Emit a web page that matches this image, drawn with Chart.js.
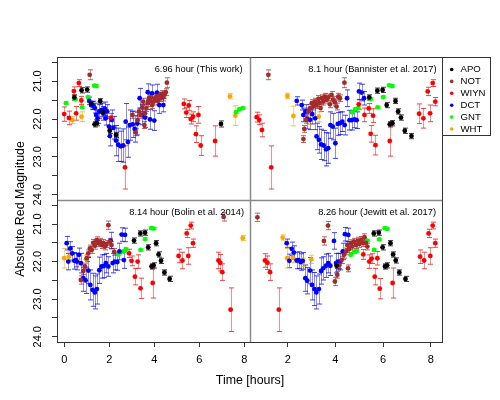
<!DOCTYPE html>
<html>
<head>
<meta charset="utf-8">
<script src="https://cdn.jsdelivr.net/npm/chart.js@4.4.0/dist/chart.umd.min.js"></script>
<style>
  body { margin: 0; background: #fff; }
  #wrap { position: relative; width: 500px; height: 400px; }
  canvas { position: absolute; left: 0; top: 0; }
</style>
</head>
<body>
<div id="wrap">
  <canvas id="c1" width="500" height="400"></canvas>
  <canvas id="c2" width="500" height="400"></canvas>
  <canvas id="c3" width="500" height="400"></canvas>
  <canvas id="c4" width="500" height="400"></canvas>
</div>
<script>
// instruments, legend order
const instruments = ['APO', 'NOT', 'WIYN', 'DCT', 'GNT', 'WHT']
const colors = ['#000000', '#a52a2a', '#ff0000', '#0000ff', '#00ff00', '#ffa500']

const panelLabels = ['6.96 hour (This work)', '8.1 hour (Bannister et al. 2017)',
  '8.14 hour (Bolin et al. 2014)', '8.26 hour (Jewitt et al. 2017)']
const leftTicks = [0, 2, 4, 6, 8]
const rightTicks = [2, 4, 6, 8]
const magTicks = [20.5, 21, 21.5, 22, 22.5, 23, 23.5, 24]

// [time (h), magnitude, error] -- panel 1: this work
const apo1 = [[0.45,21.43,0.07],[0.77,21.24,0.07],[1.02,21.22,0.07],[1.19,21.60,0.07],[1.35,22.14,0.07],[1.45,22.11,0.07],[1.60,21.53,0.07],[1.72,21.82,0.07],[2.02,22.31,0.07],[2.30,22.42,0.07],[6.96,22.13,0.08]]
const not1 = [[1.13,20.83,0.13],[3.03,21.89,0.09],[3.17,22.35,0.09],[3.26,22.03,0.09],[3.32,21.80,0.09],[3.39,21.89,0.09],[3.47,21.70,0.09],[3.51,21.54,0.09],[3.56,22.16,0.09],[3.59,21.85,0.09],[3.65,21.71,0.09],[3.71,21.58,0.09],[3.76,21.45,0.09],[3.81,21.52,0.09],[3.85,21.43,0.09],[3.91,21.63,0.09],[3.97,21.54,0.09],[4.03,21.45,0.09],[4.09,21.41,0.09],[4.15,21.52,0.09],[4.21,21.38,0.09],[4.27,21.45,0.09],[4.33,21.34,0.09],[4.39,21.43,0.09],[4.45,21.36,0.09],[4.51,21.29,0.09],[4.56,21.04,0.13]]
const wiyn1 = [[0.00,21.87,0.19],[0.21,21.97,0.18],[0.43,21.26,0.11],[0.53,21.85,0.18],[0.65,21.05,0.09],[0.76,21.51,0.11],[2.08,21.96,0.11],[2.70,23.28,0.57],[5.31,21.60,0.13],[5.42,21.83,0.13],[5.53,21.64,0.13],[5.62,22.00,0.13],[5.72,21.94,0.13],[5.85,22.40,0.22],[5.96,21.89,0.22],[6.06,22.70,0.26],[6.70,22.58,0.40]]
const dct1 = [[1.11,21.52,0.10],[1.22,21.64,0.10],[1.29,21.64,0.11],[1.36,21.71,0.13],[1.42,21.89,0.13],[1.48,21.98,0.13],[1.56,21.80,0.18],[1.66,21.76,0.18],[1.73,21.85,0.18],[1.81,21.73,0.18],[1.84,21.98,0.18],[1.91,21.80,0.18],[1.99,22.20,0.26],[2.03,22.45,0.26],[2.11,22.02,0.26],[2.19,22.23,0.30],[2.30,22.57,0.40],[2.40,22.68,0.44],[2.51,22.72,0.40],[2.62,22.70,0.44],[2.73,22.07,0.48],[2.83,22.61,0.40],[2.91,22.16,0.40],[3.04,22.14,0.35],[3.13,22.26,0.35],[3.25,22.12,0.30],[3.35,21.45,0.26],[3.47,21.89,0.26],[3.59,21.96,0.26],[3.71,21.29,0.22],[3.81,22.01,0.26],[3.90,21.32,0.22],[4.00,22.04,0.26],[4.12,21.30,0.22],[4.22,21.63,0.22],[4.40,21.63,0.18]]
const gnt1 = [[0.08,21.58,0.03],[0.49,21.48,0.03],[0.79,21.69,0.03],[1.05,21.42,0.03],[1.34,21.12,0.03],[1.42,21.13,0.03],[7.63,21.82,0.03],[7.78,21.74,0.03],[7.93,21.71,0.03]]
const wht1 = [[0.36,22.03,0.09],[0.77,21.94,0.13],[7.36,21.40,0.07],[7.60,21.91,0.26]]

// panel 2: Bannister et al. 2017
const apo2 = [[5.42,21.43,0.07],[5.76,21.25,0.07],[5.98,21.23,0.07],[6.15,21.63,0.07],[6.28,22.14,0.07],[6.39,22.11,0.07],[6.52,21.52,0.07],[6.63,21.80,0.07],[6.75,21.96,0.07],[6.91,22.31,0.07],[7.19,22.45,0.07]]
const not2 = [[1.19,20.83,0.13],[2.66,22.53,0.09],[2.70,22.26,0.09],[2.77,22.02,0.09],[2.87,21.80,0.09],[2.94,21.71,0.09],[3.01,21.58,0.09],[3.08,21.67,0.09],[3.15,21.54,0.09],[3.21,21.63,0.09],[3.29,21.47,0.09],[3.33,21.58,0.09],[3.38,21.71,0.09],[3.43,21.45,0.09],[3.49,21.54,0.09],[3.56,21.41,0.09],[3.63,21.49,0.09],[3.70,21.43,0.09],[3.77,21.61,0.09],[3.84,21.36,0.09],[3.91,21.49,0.09],[3.98,21.56,0.09],[4.05,21.67,0.09],[4.12,21.41,0.09],[4.19,21.45,0.09],[4.38,21.04,0.13]]
const wiyn2 = [[0.70,21.95,0.13],[0.81,22.02,0.13],[0.92,22.29,0.18],[1.31,23.28,0.57],[4.98,21.61,0.13],[5.22,21.89,0.18],[5.40,21.72,0.13],[5.48,22.39,0.22],[5.58,21.91,0.18],[5.68,22.69,0.26],[6.28,22.58,0.40],[7.51,21.86,0.26],[7.69,21.98,0.26],[7.87,21.27,0.11],[7.97,21.85,0.22],[8.08,21.05,0.09],[8.19,21.54,0.11]]
const dct2 = [[2.38,21.52,0.11],[2.59,21.63,0.13],[2.66,21.89,0.18],[2.75,21.80,0.18],[2.82,22.00,0.26],[2.94,22.02,0.26],[3.03,21.87,0.26],[3.15,21.98,0.30],[3.21,22.46,0.35],[3.31,22.55,0.35],[3.40,22.67,0.40],[3.51,22.70,0.40],[3.61,22.80,0.44],[3.70,22.77,0.40],[3.79,22.16,0.35],[3.89,22.20,0.35],[4.00,22.64,0.40],[4.10,22.13,0.30],[4.19,22.11,0.30],[4.29,22.07,0.26],[4.39,22.16,0.26],[4.49,21.45,0.22],[4.59,22.03,0.26],[4.68,22.03,0.26],[4.80,22.01,0.22],[4.89,22.03,0.22],[4.99,21.27,0.22],[5.10,21.30,0.22],[5.20,21.45,0.18]]
const gnt2 = [[4.71,21.82,0.03],[4.84,21.74,0.03],[4.96,21.71,0.03],[5.48,21.47,0.03],[5.77,21.69,0.03],[6.01,21.42,0.03],[6.26,21.11,0.03],[6.38,21.13,0.03]]
const wht2 = [[1.99,21.39,0.07],[2.24,21.92,0.26],[2.91,22.03,0.11],[3.30,21.94,0.13]]

// panel 3: Bolin et al. 2014
const apo3 = [[3.10,21.44,0.07],[3.38,21.25,0.07],[3.59,21.23,0.07],[3.73,21.62,0.07],[3.88,22.13,0.07],[3.97,22.10,0.07],[4.08,21.51,0.07],[4.19,21.81,0.07],[4.30,21.98,0.07],[4.45,22.29,0.07],[4.68,22.46,0.07]]
const not3 = [[0.74,22.49,0.11],[0.85,22.25,0.09],[0.92,22.13,0.09],[1.00,21.91,0.09],[1.07,21.78,0.09],[1.14,21.65,0.09],[1.22,21.69,0.09],[1.29,21.50,0.09],[1.36,21.58,0.09],[1.44,21.43,0.09],[1.51,21.51,0.09],[1.59,21.47,0.09],[1.66,21.56,0.09],[1.73,21.50,0.09],[1.81,21.60,0.09],[1.88,21.53,0.09],[1.96,21.03,0.11],[2.03,21.47,0.09],[2.10,21.56,0.09],[2.22,21.74,0.09],[7.08,20.81,0.11]]
const wiyn3 = [[2.88,21.78,0.11],[2.99,21.98,0.13],[3.14,22.40,0.22],[3.26,22.00,0.18],[3.39,22.71,0.27],[3.93,22.57,0.40],[5.08,21.85,0.18],[5.25,21.97,0.22],[5.44,21.25,0.11],[5.51,21.85,0.22],[5.62,21.04,0.09],[5.72,21.51,0.11],[6.85,21.97,0.22],[6.93,22.03,0.22],[7.02,22.28,0.22],[7.39,23.28,0.58]]
const dct3 = [[0.11,21.51,0.18],[0.18,22.00,0.22],[0.27,21.65,0.18],[0.36,21.78,0.18],[0.45,21.98,0.22],[0.51,21.96,0.18],[0.56,22.00,0.22],[0.65,21.82,0.18],[0.74,22.04,0.26],[0.85,22.44,0.35],[0.95,22.50,0.35],[1.07,22.24,0.35],[1.16,22.62,0.40],[1.26,22.75,0.44],[1.36,22.82,0.44],[1.45,22.73,0.40],[1.56,22.23,0.35],[1.66,22.13,0.31],[1.76,22.12,0.31],[1.85,22.04,0.26],[1.96,22.13,0.26],[2.06,21.44,0.22],[2.15,22.04,0.26],[2.25,22.00,0.22],[2.36,22.01,0.22],[2.45,21.73,0.22],[2.55,21.28,0.18],[2.65,21.96,0.22],[2.70,21.29,0.18]]
const gnt3 = [[2.40,21.81,0.03],[2.52,21.75,0.03],[2.62,21.73,0.03],[2.74,21.67,0.03],[3.39,21.69,0.03],[3.59,21.40,0.03],[3.87,21.11,0.03],[3.97,21.12,0.03]]
const wht3 = [[0.00,21.91,0.26],[0.21,21.87,0.13],[0.62,22.02,0.09],[0.98,21.94,0.11],[7.93,21.37,0.07]]

// panel 4: Jewitt et al. 2017
const apo4 = [[4.05,22.11,0.07],[5.61,21.25,0.07],[5.82,21.23,0.07],[5.98,21.62,0.07],[6.08,22.13,0.07],[6.17,22.10,0.07],[6.31,21.51,0.07],[6.42,21.81,0.07],[6.53,21.97,0.07],[6.68,22.29,0.07],[6.94,22.46,0.07]]
const not4 = [[0.73,20.82,0.11],[3.52,21.45,0.11],[3.69,21.04,0.11],[3.98,22.53,0.11],[4.08,22.35,0.09],[4.17,22.09,0.09],[4.26,21.96,0.09],[4.36,21.82,0.09],[4.45,21.73,0.09],[4.50,21.56,0.09],[4.53,22.18,0.09],[4.57,21.67,0.09],[4.64,21.51,0.09],[4.71,21.60,0.09],[4.78,21.47,0.09],[4.87,21.56,0.09],[4.94,21.44,0.09],[5.01,21.53,0.09],[5.08,21.42,0.09],[5.15,21.51,0.09],[5.22,21.35,0.09],[5.28,21.50,0.09],[5.34,21.60,0.09]]
const wiyn4 = [[1.05,21.97,0.18],[1.15,22.03,0.18],[1.26,22.28,0.22],[1.63,23.28,0.58],[5.17,21.81,0.13],[5.42,22.00,0.18],[5.52,21.92,0.13],[5.65,22.40,0.22],[5.76,21.91,0.18],[5.86,22.72,0.27],[6.40,22.57,0.40],[7.55,21.87,0.18],[7.72,21.97,0.22],[7.91,21.25,0.11],[7.98,21.85,0.22],[8.08,21.04,0.09],[8.19,21.51,0.11]]
const dct4 = [[1.96,21.51,0.11],[2.07,21.98,0.18],[2.17,21.66,0.18],[2.26,21.76,0.18],[2.38,21.97,0.22],[2.46,21.96,0.22],[2.54,22.01,0.22],[2.63,21.98,0.22],[2.74,22.44,0.35],[2.82,22.51,0.35],[2.94,22.24,0.35],[3.02,22.62,0.40],[3.12,22.73,0.44],[3.20,22.82,0.44],[3.31,22.73,0.40],[3.40,22.25,0.35],[3.49,22.18,0.31],[3.61,22.11,0.31],[3.70,22.04,0.26],[3.79,22.11,0.26],[3.94,21.45,0.22],[4.03,22.04,0.26],[4.10,22.00,0.22],[4.19,22.00,0.22],[4.31,21.73,0.22],[4.40,21.27,0.18],[4.54,21.29,0.18]]
const gnt4 = [[4.64,21.82,0.03],[4.78,21.75,0.03],[4.89,21.72,0.03],[5.34,21.44,0.03],[5.62,21.69,0.03],[5.84,21.41,0.03],[6.07,21.11,0.03],[6.17,21.13,0.03]]
const wht4 = [[1.79,21.36,0.07],[1.98,21.91,0.26],[2.22,21.89,0.13],[2.63,22.02,0.11],[2.99,21.94,0.11]]

const font = '"Liberation Sans", Arial, Helvetica, sans-serif'
Chart.defaults.font.family = font

// error bars drawn under the points
const errorBars = {
  id: 'errorBars',
  beforeDatasetsDraw(chart) {
    const { ctx, chartArea: a, scales: { x, y } } = chart
    ctx.save()
    ctx.beginPath()
    ctx.rect(a.left, a.top, a.width, a.height)
    ctx.clip()
    ctx.lineWidth = 1
    chart.data.datasets.forEach(ds => {
      ctx.strokeStyle = ds.borderColor
      ds.data.forEach(p => {
        const px = Math.round(x.getPixelForValue(p.x)) + 0.5
        const top = y.getPixelForValue(p.y - p.e)
        const bot = y.getPixelForValue(p.y + p.e)
        ctx.globalAlpha = 0.45
        ctx.beginPath()
        ctx.moveTo(px, top)
        ctx.lineTo(px, bot)
        ctx.stroke()
        ctx.globalAlpha = 0.75
        ctx.beginPath()
        ctx.moveTo(px - 2.5, top); ctx.lineTo(px + 2.5, top)
        ctx.moveTo(px - 2.5, bot); ctx.lineTo(px + 2.5, bot)
        ctx.stroke()
      })
    })
    ctx.restore()
  }
}

// box, period label and tick labels of one panel
const panelDecor = {
  id: 'panelDecor',
  afterDraw(chart, args, opts) {
    const { ctx, chartArea: a, scales: { x, y } } = chart
    ctx.save()
    ctx.strokeStyle = '#333'
    ctx.lineWidth = 1
    ctx.strokeRect(a.left + 0.5, a.top + 0.5, a.width, a.height)
    ctx.fillStyle = '#000'
    ctx.font = '9.3px ' + font
    ctx.textAlign = 'right'
    ctx.textBaseline = 'middle'
    ctx.fillText(opts.text, a.right - opts.dx, a.top + 12.8)
    ctx.font = '11px ' + font
    ctx.textAlign = 'center'
    if (opts.yLabels) {
      y.ticks.forEach(t => {
        if (!Number.isInteger(t.value)) return
        ctx.save()
        ctx.translate(a.left - 19, y.getPixelForValue(t.value))
        ctx.rotate(-Math.PI / 2)
        ctx.fillText(t.value.toFixed(1), 0, 0)
        ctx.restore()
      })
    }
    if (opts.xLabels) {
      x.ticks.forEach(t => {
        ctx.fillText(String(t.value), x.getPixelForValue(t.value), a.bottom + 18)
      })
    }
    ctx.restore()
  }
}

// shared axis titles, panel separators and the legend box
const figureDecor = {
  id: 'figureDecor',
  afterDraw(chart) {
    const { ctx, chartArea: a } = chart
    ctx.save()
    ctx.strokeStyle = '#8a8a8a'
    ctx.lineWidth = 1.5
    ctx.beginPath()
    ctx.moveTo(a.left + 0.5, 57.5); ctx.lineTo(a.left + 0.5, a.bottom)
    ctx.moveTo(58, a.top + 0.5); ctx.lineTo(a.right, a.top + 0.5)
    ctx.stroke()

    ctx.fillStyle = '#000'
    ctx.font = '12.4px ' + font
    ctx.textAlign = 'center'
    ctx.textBaseline = 'middle'
    ctx.fillText('Time [hours]', 250, 381)
    ctx.translate(21, 209)
    ctx.rotate(-Math.PI / 2)
    ctx.fillText('Absolute Red Magnitude', 0, 0)
    ctx.restore()

    ctx.save()
    ctx.strokeStyle = '#333'
    ctx.lineWidth = 1
    ctx.strokeRect(442.5, 57.5, 48, 78)
    ctx.font = '9.6px ' + font
    ctx.textAlign = 'left'
    ctx.textBaseline = 'middle'
    instruments.forEach((name, i) => {
      const yy = 69.5 + i * 11.9
      ctx.fillStyle = colors[i]
      ctx.beginPath()
      ctx.arc(451.7, yy, 1.8, 0, Math.PI * 2)
      ctx.fill()
      ctx.fillStyle = '#000'
      ctx.fillText(name, 460.5, yy)
    })
    ctx.restore()
  }
}

const makePanel = (id, sets, p) => {
  const datasets = instruments.map((name, i) => ({
    label: name,
    data: sets[i].map(r => ({ x: r[0], y: r[1], e: r[2] })),
    backgroundColor: colors[i],
    borderColor: colors[i],
    pointRadius: 2.4,
    pointHoverRadius: 2.4,
    pointBorderWidth: 0
  }))
  const tickGrid = { drawOnChartArea: false, drawTicks: true, tickLength: 5, color: '#333' }
  return new Chart(document.getElementById(id), {
    type: 'scatter',
    data: { datasets },
    plugins: [errorBars, panelDecor].concat(p.extra || []),
    options: {
      responsive: false,
      animation: false,
      events: [],
      layout: { padding: p.pad },
      plugins: {
        legend: { display: false },
        tooltip: { enabled: false },
        panelDecor: { text: p.label, dx: p.dx, yLabels: p.showY, xLabels: p.showX }
      },
      scales: {
        x: {
          type: 'linear',
          min: p.xmin,
          max: p.xmax,
          display: p.showX,
          afterBuildTicks: s => { s.ticks = p.xTicks.map(v => ({ value: v })) },
          afterFit: s => { s.height = 0; s.paddingLeft = 0; s.paddingRight = 0 },
          grid: tickGrid,
          border: { display: false },
          ticks: { display: false }
        },
        y: {
          type: 'linear',
          reverse: true,
          min: 20.36,
          max: 24.14,
          display: p.showY,
          afterBuildTicks: s => { s.ticks = magTicks.map(v => ({ value: v })) },
          afterFit: s => { s.width = 0 },
          grid: tickGrid,
          border: { display: false },
          ticks: { display: false }
        }
      }
    }
  })
}

makePanel('c1', [apo1, not1, wiyn1, dct1, gnt1, wht1], {
  label: panelLabels[0], dx: 7.5, pad: { left: 57, top: 57, right: 250, bottom: 200 },
  xmin: -0.32, xmax: 8.25, xTicks: leftTicks, showX: false, showY: true
})
makePanel('c2', [apo2, not2, wiyn2, dct2, gnt2, wht2], {
  label: panelLabels[1], dx: 5.5, pad: { left: 250, top: 57, right: 58, bottom: 200 },
  xmin: 0.42, xmax: 8.47, xTicks: rightTicks, showX: false, showY: false
})
makePanel('c3', [apo3, not3, wiyn3, dct3, gnt3, wht3], {
  label: panelLabels[2], dx: 6, pad: { left: 57, top: 200, right: 250, bottom: 58 },
  xmin: -0.32, xmax: 8.25, xTicks: leftTicks, showX: true, showY: true
})
makePanel('c4', [apo4, not4, wiyn4, dct4, gnt4, wht4], {
  label: panelLabels[3], dx: 6, pad: { left: 250, top: 200, right: 58, bottom: 58 },
  xmin: 0.42, xmax: 8.47, xTicks: rightTicks, showX: true, showY: false,
  extra: [figureDecor]
})
</script>
</body>
</html>
